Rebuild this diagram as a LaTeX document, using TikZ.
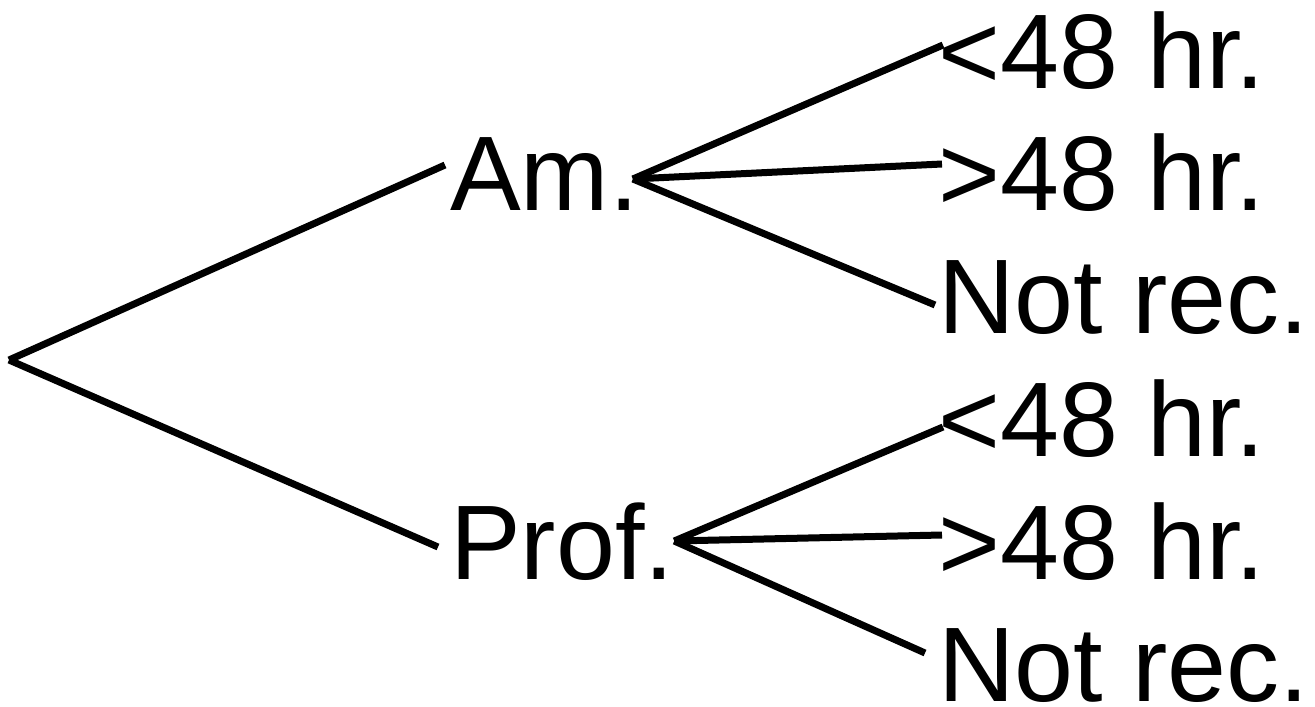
\documentclass[tikz,border=0pt]{standalone}
\usepackage{fontspec}
\setmainfont{Liberation Sans}
\begin{document}
\begin{tikzpicture}[x=1pt,y=-1pt,
  lbl/.style={anchor=base west,inner sep=0pt,text height=76pt,text depth=0pt,
    font=\fontsize{106}{120}\selectfont},
  branch/.style={draw=black,line width=7pt}]
\useasboundingbox (0,0) rectangle (1315,707);
% root of the tree
\coordinate (root) at (9,360);
% first level
\node[lbl] (am)   at (450,210) {Am.};
\node[lbl] (prof) at (450,579) {Prof.};
% leaves
\node[lbl] (lt1) at (938,88)  {<48 hr.};
\node[lbl] (gt1) at (938,210) {>48 hr.};
\node[lbl] (nr1) at (938,333) {Not rec.};
\node[lbl] (lt2) at (938,456) {<48 hr.};
\node[lbl] (gt2) at (938,579) {>48 hr.};
\node[lbl] (nr2) at (938,701) {Not rec.};
% branches
\draw[branch] (root) -- ([shift={(-5,-7)}]am.west);
\draw[branch] (root) -- ([shift={(-12,6)}]prof.west);
\draw[branch] ([shift={(-6,7)}]am.east) -- ([shift={(5,-5)}]lt1.west);
\draw[branch] ([shift={(-6,7)}]am.east) -- ([shift={(4,-8)}]gt1.west);
\draw[branch] ([shift={(-6,7)}]am.east) -- ([shift={(-3,10)}]nr1.west);
\draw[branch] (prof.east) -- ([shift={(5,9)}]lt2.west);
\draw[branch] (prof.east) -- ([shift={(4,-6)}]gt2.west);
\draw[branch] (prof.east) -- ([shift={(-13,-10)}]nr2.west);
\end{tikzpicture}
\end{document}
